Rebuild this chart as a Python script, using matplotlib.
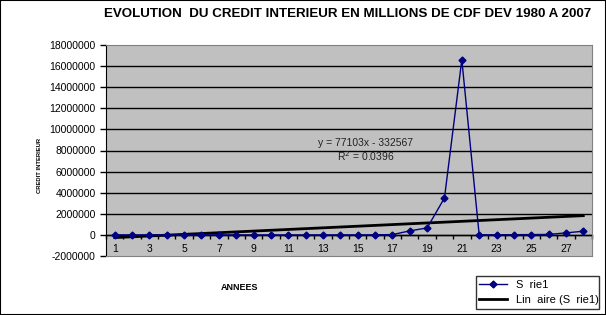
import matplotlib.pyplot as plt
from matplotlib.ticker import FuncFormatter
from matplotlib.patches import Rectangle
import numpy as np

plt.rcParams['font.family'] = ['Liberation Sans', 'DejaVu Sans']

# data (millions of CDF)
years = list(range(1, 29))
credit = [0, 0, 0, 0, 0, 1, 2, 3, 5, 8,
          15, 40, 90, 300, 2000, 10000, 30000, 380000, 660000, 3500000,
          16600000, 8000, 12000, 20000, 30000, 45000, 190000, 350000]
trend_slope = 77103
trend_icpt = -332567
eq_text = "y = 77103x - 332567"
r2_text = "R$^2$ = 0.0396"
y_ticks = list(range(-2000000, 18000001, 2000000))

fig = plt.figure(figsize=(6.06, 3.15), dpi=100)
ax = fig.add_axes([106 / 606, 59 / 315, 486 / 606, 211 / 315])
ax.set_facecolor('#c0c0c0')

ax.set_ylim(-2000000, 18000000)
ax.set_xlim(0.5, 28.5)
ax.set_yticks(y_ticks)
ax.yaxis.set_major_formatter(FuncFormatter(lambda v, p: "%d" % v))
for t in y_ticks[1:-1]:
    ax.axhline(t, color='black', lw=1, zorder=1)

x = np.array(years)
ax.plot(years, credit, color='#000080', marker='D', ms=3.5, lw=1,
        label='S  rie1', zorder=3)
ax.plot(x, trend_slope * x + trend_icpt, color='black', lw=2,
        label='Lin  aire (S  rie1)', zorder=2)

ax.text((366 - 106) / 486, (256 - 143) / 211, eq_text, transform=ax.transAxes,
        fontsize=7.5, ha='center', va='center', color='#222222')
ax.text((366 - 106) / 486, (256 - 156) / 211, r2_text, transform=ax.transAxes,
        fontsize=7.5, ha='center', va='center', color='#222222')

for s in ['top', 'right', 'bottom']:
    ax.spines[s].set_color('#808080')
ax.spines['left'].set_color('black')
ax.tick_params(axis='y', labelsize=7.5, direction='out', length=4, width=1)
ax.set_xticks(years[::2])
ax.tick_params(axis='x', labelsize=7.5, length=0, pad=-9)

# category axis crossing at zero
sec = ax.secondary_xaxis(0.1)
sec.set_xticks(np.arange(0.5, 29, 1))
sec.set_xticklabels([])
sec.tick_params(direction='out', length=3, width=1, color='black')
sec.spines['bottom'].set_color('black')
sec.spines['bottom'].set_linewidth(1)

fig.text(348 / 606, 1 - 14 / 315,
         "EVOLUTION  DU CREDIT INTERIEUR EN MILLIONS DE CDF DEV 1980 A 2007",
         ha='center', va='center', fontsize=9.6, fontweight='bold')
fig.text(240 / 606, 1 - 287 / 315, "ANNEES", ha='center', va='center',
         fontsize=6.5, fontweight='bold')
fig.text(40 / 606, 1 - 165 / 315, "CREDIT INTERIEUR", ha='center', va='center',
         fontsize=4.2, fontweight='bold', rotation=90)

leg = fig.legend(loc='lower left', bbox_to_anchor=(470 / 606, 0.5 / 315, 135 / 606, 45 / 315),
                 mode='expand', fontsize=8, frameon=True, fancybox=False,
                 handlelength=2.5, borderpad=0.35, labelspacing=0.45)
leg.get_frame().set_edgecolor('black')
leg.get_frame().set_linewidth(1)

fig.patches.append(Rectangle((0, 0), 1, 1, transform=fig.transFigure, fill=False,
                             edgecolor='black', lw=1.5))

fig.savefig('out.png', dpi=100)
